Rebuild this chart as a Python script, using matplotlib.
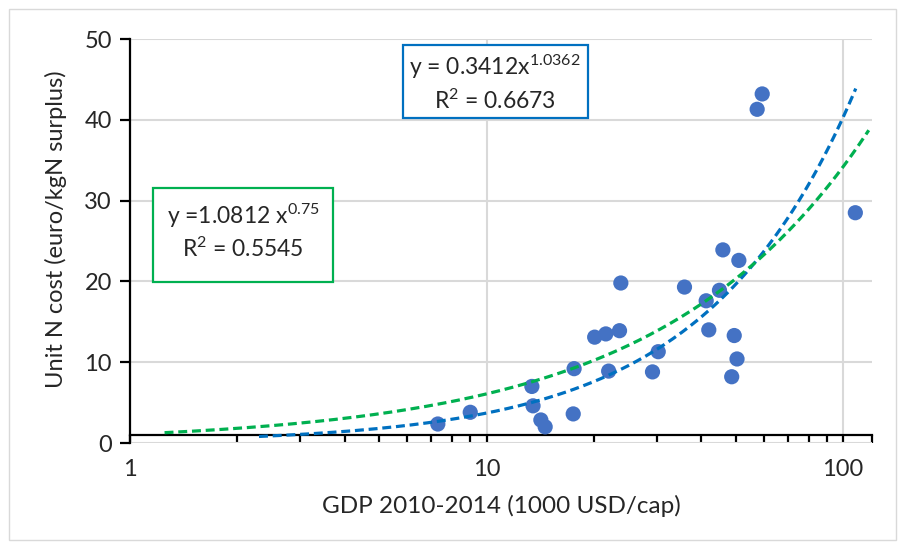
import numpy as np
import matplotlib
matplotlib.use("Agg")
import matplotlib.pyplot as plt
from matplotlib.patches import Rectangle
from matplotlib.ticker import FixedLocator, NullFormatter

plt.rcParams['font.family'] = ['Lato', 'DejaVu Sans']
plt.rcParams['mathtext.fontset'] = 'custom'
plt.rcParams['mathtext.rm'] = 'Lato'
plt.rcParams['mathtext.it'] = 'Lato:italic'

# GDP (1000 USD/cap) and unit N cost (euro/kgN surplus)
gdp = [7.3, 9.0, 13.4, 13.5, 14.2, 14.6, 17.5, 17.6, 20.1, 21.6, 22.0, 23.6,
       23.8, 29.2, 30.3, 35.9, 41.3, 42.0, 45.0, 46.0, 48.7, 49.5, 50.4, 51.0,
       57.4, 59.3, 108.2]
cost = [2.35, 3.8, 7.0, 4.6, 2.85, 2.0, 3.6, 9.2, 13.1, 13.5, 8.9, 13.9,
        19.8, 8.8, 11.3, 19.3, 17.6, 14.0, 18.9, 23.9, 8.2, 13.3, 10.4, 22.6,
        41.3, 43.2, 28.5]

# power trend lines: y = a * x^b
blue_fit = (0.3412, 1.0362)
green_fit = (1.0812, 0.75)
blue_range = (2.3, 108.5)
green_range = (1.25, 118.0)

xticks = [1, 10, 100]
yticks = [0, 10, 20, 30, 40, 50]

fig = plt.figure(figsize=(9.04, 5.47), dpi=100)
ax = fig.add_axes([130 / 904, 1 - 443 / 547, 742 / 904, 404 / 547])

# outer chart border
fig.patches.append(Rectangle((9 / 904, 7 / 547), 887 / 904, 531 / 547,
                             transform=fig.transFigure, fill=False,
                             edgecolor='#d9d9d9', linewidth=1.0))

ax.set_xscale('log')
ax.set_xlim(1, 120.5)
ax.set_ylim(0, 50)

ax.grid(True, which='major', color='#d9d9d9', linewidth=1.5)
ax.set_axisbelow(True)

ax.scatter(gdp, cost, s=120, color='#4472c4', edgecolors='none', zorder=3)

xb = np.geomspace(*blue_range, 200)
ax.plot(xb, blue_fit[0] * xb ** blue_fit[1], color='#0070c0', lw=2.3,
        linestyle=(0, (2.8, 1.5)), zorder=4)
xg = np.geomspace(*green_range, 200)
ax.plot(xg, green_fit[0] * xg ** green_fit[1], color='#00b050', lw=2.3,
        linestyle=(0, (2.8, 1.5)), zorder=4)

# axes look (Excel style: x axis crosses at y = 1)
for s in ['top', 'right']:
    ax.spines[s].set_visible(False)
ax.spines['bottom'].set_position(('data', 1))
ax.spines['bottom'].set_linewidth(1.6)
ax.spines['left'].set_linewidth(1.6)
ax.spines['bottom'].set_zorder(2)

ax.xaxis.set_major_locator(FixedLocator(xticks))
ax.set_xticklabels([str(t) for t in xticks])
minor = [m * d for d in (1, 10) for m in range(2, 10)] + [120.5]
ax.xaxis.set_minor_locator(FixedLocator(minor))
ax.xaxis.set_minor_formatter(NullFormatter())
ax.set_yticks(yticks)

ax.tick_params(axis='x', which='both', direction='out', length=6, width=1.6,
               pad=11, labelsize=17, colors='black')
ax.tick_params(axis='y', which='major', direction='out', length=7, width=1.6,
               pad=6, labelsize=17)
for lab in ax.get_xticklabels() + ax.get_yticklabels():
    lab.set_color('#262626')

ax.set_xlabel('GDP 2010-2014 (1000 USD/cap)', fontsize=17.5, color='#262626',
              va='center')
ax.xaxis.set_label_coords(0.5, (443 - 506) / 404)
ax.set_ylabel('Unit N cost (euro/kgN surplus)', fontsize=17, color='#262626',
              va='center')
ax.yaxis.set_label_coords((56 - 130) / 742, (443 - 229) / 404)

# equation boxes
def eq_box(x0, y0, x1, y1, color, line1, y_l1, line2, y_l2, cx):
    fig.patches.append(Rectangle((x0 / 904, 1 - y1 / 547), (x1 - x0) / 904,
                                 (y1 - y0) / 547, transform=fig.transFigure,
                                 facecolor='white', edgecolor=color,
                                 linewidth=1.6, zorder=5))
    fig.text(cx / 904, 1 - y_l1 / 547, line1, ha='center', va='center',
             fontsize=16.5, color='#262626', zorder=6)
    fig.text(cx / 904, 1 - y_l2 / 547, line2, ha='center', va='center',
             fontsize=16.5, color='#262626', zorder=6)

eq_box(403, 45, 588, 118, '#0070c0',
       r'y = 0.3412x$^{\mathrm{1.0362}}$', 67, r'R$^{\mathrm{2}}$ = 0.6673', 101, 495)
eq_box(153, 188, 333, 282, '#00b050',
       r'y =1.0812 x$^{\mathrm{0.75}}$', 216, r'R$^{\mathrm{2}}$ = 0.5545', 249, 243)

fig.savefig('out.png', dpi=100)
